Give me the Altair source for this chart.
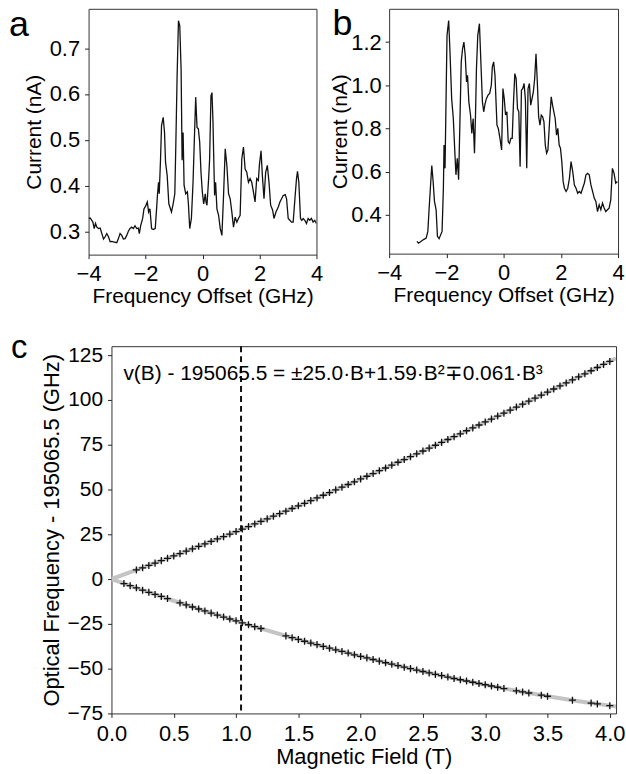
import altair as alt
import pandas as pd

FONT = "Liberation Sans"

# ---------------- panel a: photocurrent vs frequency offset ----------------
a_freq = [
    -4.0, -3.942, -3.849, -3.802, -3.756, -3.709, -3.651, -3.593, -3.534, -3.476,
    -3.418, -3.36, -3.302, -3.243, -3.185, -3.127, -3.011, -2.952, -2.894, -2.836,
    -2.778, -2.719, -2.661, -2.603, -2.545, -2.487, -2.428, -2.37, -2.312, -2.254,
    -2.219, -2.172, -2.102, -2.056, -1.998, -1.939, -1.893, -1.846, -1.788, -1.73,
    -1.66, -1.613, -1.579, -1.544, -1.52, -1.474, -1.439, -1.381, -1.334, -1.299,
    -1.241, -1.183, -1.09, -1.031, -0.973, -0.938, -0.892, -0.845, -0.799, -0.752,
    -0.717, -0.682, -0.647, -0.589, -0.531, -0.496, -0.449, -0.391, -0.333, -0.286,
    -0.24, -0.193, -0.147, -0.1, -0.054, -0.007, 0.04, 0.098,
    0.121, 0.156, 0.214, 0.249, 0.296, 0.331, 0.366, 0.389, 0.424, 0.459,
    0.505, 0.564, 0.622, 0.68, 0.738, 0.796, 0.854, 0.913, 0.971, 1.029,
    1.087, 1.145, 1.204, 1.262, 1.32, 1.378, 1.437, 1.495, 1.553, 1.611,
    1.669, 1.728, 1.786, 1.844, 1.902, 1.96, 1.995, 2.054, 2.1, 2.158,
    2.216, 2.275, 2.333, 2.391, 2.461, 2.508, 2.577, 2.659, 2.717, 2.775,
    2.833, 2.903, 2.95, 3.008, 3.066, 3.124, 3.182, 3.252, 3.299, 3.334,
    3.38, 3.439, 3.485, 3.532, 3.59, 3.648, 3.706, 3.764, 3.822, 3.881,
    3.939, 3.997,
]
a_current = [
    0.328, 0.329, 0.320, 0.306, 0.317, 0.309, 0.306, 0.307, 0.295, 0.283,
    0.288, 0.295, 0.288, 0.277, 0.278, 0.277, 0.275, 0.284, 0.295, 0.291,
    0.283, 0.284, 0.291, 0.300, 0.306, 0.309, 0.306, 0.312, 0.306, 0.307,
    0.295, 0.312, 0.328, 0.349, 0.355, 0.364, 0.342, 0.349, 0.306, 0.304,
    0.306, 0.349, 0.382, 0.407, 0.382, 0.458, 0.531, 0.549, 0.516, 0.451,
    0.422, 0.360, 0.342, 0.360, 0.382, 0.487, 0.640, 0.760, 0.749, 0.654,
    0.455, 0.516, 0.400, 0.382, 0.386, 0.360, 0.306, 0.328, 0.407, 0.502,
    0.593, 0.527, 0.524, 0.495, 0.429, 0.386, 0.360, 0.382,
    0.364, 0.357, 0.415, 0.458, 0.596, 0.603, 0.542, 0.473, 0.378, 0.407,
    0.349, 0.335, 0.306, 0.291, 0.378, 0.480, 0.444, 0.382, 0.371, 0.342,
    0.309, 0.331, 0.320, 0.328, 0.335, 0.458, 0.484, 0.436, 0.429, 0.407,
    0.415, 0.407, 0.386, 0.364, 0.415, 0.411, 0.444, 0.476, 0.422, 0.371,
    0.429, 0.444, 0.407, 0.357, 0.346, 0.328, 0.342, 0.353, 0.364, 0.371,
    0.378, 0.380, 0.371, 0.328, 0.324, 0.320, 0.320, 0.378, 0.415, 0.431,
    0.407, 0.328, 0.324, 0.328, 0.324, 0.317, 0.328, 0.324, 0.328, 0.320,
    0.324, 0.317,
]

# ---------------- panel b ----------------
b_freq = [
    -3.029, -2.971, -2.913, -2.798, -2.705, -2.647, -2.601, -2.555, -2.509, -2.462,
    -2.416, -2.358, -2.312, -2.254, -2.197, -2.150, -2.104, -2.081, -2.046, -2.012,
    -1.977, -1.919, -1.873, -1.815, -1.757, -1.699, -1.665, -1.618, -1.572, -1.526,
    -1.480, -1.434, -1.387, -1.341, -1.295, -1.260, -1.214, -1.156, -1.110, -1.064,
    -1.017, -0.983, -0.948, -0.902, -0.844, -0.798, -0.740, -0.694, -0.647, -0.601,
    -0.543, -0.486, -0.428, -0.393, -0.347, -0.301, -0.231, -0.185,
    -0.127, -0.069, -0.023, 0.023, 0.069, 0.116, 0.162, 0.208, 0.254, 0.301,
    0.347, 0.393, 0.439, 0.486, 0.532, 0.578, 0.624, 0.671, 0.717, 0.763,
    0.809, 0.855, 0.902, 0.948, 0.994, 1.040, 1.087, 1.133, 1.179, 1.225,
    1.272, 1.318, 1.364, 1.410, 1.457, 1.503, 1.549, 1.607, 1.665, 1.711,
    1.757, 1.803, 1.850, 1.896, 1.942, 1.988, 2.035, 2.081, 2.127, 2.185,
    2.243, 2.301, 2.358, 2.416, 2.474, 2.532, 2.590, 2.647, 2.705, 2.763,
    2.821, 2.879, 2.936, 2.994, 3.052, 3.110, 3.168, 3.225, 3.283, 3.341,
    3.399, 3.457, 3.514, 3.572, 3.630, 3.688, 3.746, 3.803, 3.861, 3.919,
    3.977,
]
b_current = [
    0.277, 0.269, 0.274, 0.285, 0.292, 0.323, 0.431, 0.531, 0.628, 0.554,
    0.462, 0.423, 0.300, 0.289, 0.308, 0.323, 0.523, 0.723, 0.615, 0.923,
    1.231, 1.300, 1.154, 0.938, 0.846, 0.677, 0.585, 0.662, 0.562, 0.831,
    1.108, 1.169, 1.200, 1.138, 1.015, 1.046, 0.923, 0.862, 0.777, 0.846,
    0.685, 0.854, 1.077, 1.231, 1.285, 1.123, 0.923, 0.877, 0.915, 0.938,
    0.954, 0.962, 1.000, 1.085, 1.108, 1.046, 0.815, 0.800,
    0.754, 0.700, 0.985, 0.938, 0.862, 0.877, 0.738, 0.731, 0.754, 0.754,
    0.923, 1.054, 1.031, 0.892, 0.877, 0.623, 0.977, 0.985, 1.008, 0.931,
    0.615, 0.985, 1.008, 0.908, 0.938, 0.969, 1.031, 1.146, 1.015, 0.854,
    0.815, 0.862, 0.854, 0.831, 0.723, 0.685, 0.700, 0.831, 0.946, 0.908,
    0.877, 0.846, 0.769, 0.800, 0.723, 0.708, 0.646, 0.554, 0.523, 0.508,
    0.523, 0.569, 0.646, 0.600, 0.538, 0.523, 0.500, 0.508, 0.500, 0.523,
    0.546, 0.585, 0.592, 0.585, 0.538, 0.508, 0.477, 0.462, 0.415, 0.446,
    0.423, 0.454, 0.431, 0.415, 0.423, 0.431, 0.469, 0.615, 0.592, 0.546,
    0.554,
]

# ---------------- panel c: Zeeman splitting ----------------
up_field = [
    0.20, 0.25, 0.30, 0.35, 0.40, 0.45, 0.50, 0.55, 0.60, 0.65,
    0.70, 0.75, 0.80, 0.85, 0.90, 0.95, 1.00, 1.05, 1.10, 1.15,
    1.20, 1.25, 1.30, 1.35, 1.40, 1.45, 1.50, 1.55, 1.60, 1.65,
    1.70, 1.75, 1.80, 1.85, 1.90, 1.95, 2.00, 2.05, 2.10, 2.15,
    2.20, 2.25, 2.30, 2.35, 2.40, 2.45, 2.50, 2.55, 2.60, 2.65,
    2.70, 2.75, 2.80, 2.85, 2.90, 2.95, 3.00, 3.05, 3.10, 3.15,
    3.20, 3.25, 3.30, 3.35, 3.40, 3.45, 3.50, 3.55, 3.60, 3.65,
    3.70, 3.75, 3.80, 3.85, 3.90, 3.95, 4.00,
]
up_freq = [
    5.1, 6.3, 7.6, 8.9, 10.3, 11.6, 12.9, 14.2, 15.6, 16.9,
    18.3, 19.6, 21.0, 22.4, 23.7, 25.1, 26.5, 27.9, 29.3, 30.8,
    32.2, 33.6, 35.1, 36.5, 37.9, 39.4, 40.9, 42.3, 43.8, 45.3,
    46.8, 48.3, 49.8, 51.3, 52.8, 54.3, 55.9, 57.4, 58.9, 60.5,
    62.0, 63.6, 65.2, 66.7, 68.3, 69.9, 71.5, 73.1, 74.7, 76.3,
    77.9, 79.5, 81.1, 82.8, 84.4, 86.0, 87.7, 89.3, 91.0, 92.6,
    94.3, 96.0, 97.6, 99.3, 101.0, 102.7, 104.4, 106.1, 107.8, 109.5,
    111.2, 112.9, 114.6, 116.3, 118.1, 119.8, 121.5,
]
lo_field = [
    0.10, 0.15, 0.20, 0.25, 0.30, 0.35, 0.40, 0.45, 0.55, 0.60,
    0.65, 0.70, 0.75, 0.80, 0.85, 0.90, 0.95, 1.00, 1.05, 1.10,
    1.15, 1.20, 1.40, 1.45, 1.50, 1.55, 1.60, 1.65, 1.70, 1.75,
    1.80, 1.85, 1.90, 1.95, 2.00, 2.05, 2.10, 2.15, 2.20, 2.25,
    2.30, 2.35, 2.40, 2.45, 2.50, 2.55, 2.60, 2.65, 2.70, 2.75,
    2.80, 2.85, 2.90, 2.95, 3.00, 3.05, 3.10, 3.15, 3.25, 3.30,
    3.35, 3.45, 3.50, 3.70, 3.85, 3.90, 4.00,
]
lo_freq = [
    -2.5, -3.7, -4.9, -6.2, -7.4, -8.6, -9.7, -10.9, -13.3, -14.4,
    -15.6, -16.7, -17.8, -19.0, -20.1, -21.2, -22.3, -23.3, -24.4, -25.5,
    -26.6, -27.6, -31.7, -32.7, -33.7, -34.7, -35.7, -36.6, -37.6, -38.6,
    -39.5, -40.4, -41.3, -42.3, -43.2, -44.0, -44.9, -45.8, -46.7, -47.5,
    -48.3, -49.2, -50.0, -50.8, -51.6, -52.4, -53.2, -53.9, -54.7, -55.5,
    -56.2, -56.9, -57.6, -58.3, -59.0, -59.7, -60.4, -61.1, -62.4, -63.0,
    -63.6, -64.8, -65.4, -67.6, -69.2, -69.7, -70.7,
]
fit_field = [0.0, 0.25, 0.5, 0.75, 1.0, 1.25, 1.5, 1.75, 2.0, 2.25, 2.5, 2.75,
             3.0, 3.25, 3.5, 3.75, 4.0, 4.05]
fit_up = [0.0, 6.35, 12.89, 19.62, 26.53, 33.62, 40.87, 48.29, 55.87, 63.6,
          71.48, 79.51, 87.66, 95.95, 104.36, 112.89, 121.54, 123.28]
fit_lo = [0.0, -6.15, -12.10, -17.83, -23.35, -28.65, -33.72, -38.55, -43.15,
          -47.51, -51.61, -55.46, -59.04, -62.36, -65.41, -68.17, -70.66, -71.12]
marker_field = [1.04]
fit_text = "v(B) - 195065.5 = \u00b125.0\u00b7B+1.59\u00b7B\u00b2\u22130.061\u00b7B\u00b3"

offset_ticks = [-4, -2, 0, 2, 4]
a_yticks = [0.3, 0.4, 0.5, 0.6, 0.7]
b_yticks = [0.4, 0.6, 0.8, 1.0, 1.2]
c_xticks = [0.0, 0.5, 1.0, 1.5, 2.0, 2.5, 3.0, 3.5, 4.0]
c_yticks = [-75, -50, -25, 0, 25, 50, 75, 100, 125]

FRAME = alt.ViewBackground(stroke="#333", strokeWidth=1)


def axis(values, fmt, title, lsize, tsize, title_pad, label_pad=5):
    return alt.Axis(values=values, format=fmt, title=title, grid=False, domain=False,
                    ticks=True, tickSize=4, tickColor="#222", labelColor="black",
                    titleColor="black", labelFont=FONT, titleFont=FONT,
                    labelFontSize=lsize, titleFontSize=tsize, titleFontWeight="normal",
                    labelPadding=label_pad, titlePadding=title_pad, labelFlush=False)


def label_layer(letter, x, y, size):
    return alt.Chart(pd.DataFrame({"t": [letter]})).mark_text(
        fontSize=size, font=FONT, align="left", baseline="alphabetic", color="black"
    ).encode(text="t:N", x=alt.value(x), y=alt.value(y))


def spectrum(xs, ys, ydom, yticks, letter, lx, ly, w, h, ytitle_pad, ylabel_pad):
    df = pd.DataFrame({"f": xs, "c": ys})
    line = alt.Chart(df).mark_line(color="#111", strokeWidth=1.3, clip=True).encode(
        x=alt.X("f:Q", scale=alt.Scale(domain=[-4, 4], nice=False, zero=False),
                axis=axis(offset_ticks, "d", "Frequency Offset (GHz)", 22, 21, 1)),
        y=alt.Y("c:Q", scale=alt.Scale(domain=ydom, nice=False, zero=False),
                axis=axis(yticks, ".1f", "Current (nA)", 22, 21, ytitle_pad, ylabel_pad)),
        order="f:Q",
    )
    return alt.layer(line, label_layer(letter, lx, ly, 36)).properties(
        width=w, height=h, view=FRAME)


panel_a = spectrum(a_freq, a_current, [0.249, 0.786], a_yticks, "a", -80, 27, 229, 247, 5, 5)
panel_b = spectrum(b_freq, b_current, [0.22, 1.354], b_yticks, "b", -57, 26, 230, 246, 0, 4)

xsc = alt.Scale(domain=[0, 4.05], nice=False, zero=False)
ysc = alt.Scale(domain=[-75, 130], nice=False, zero=False)

fit_df = pd.DataFrame({
    "B": fit_field + fit_field,
    "v": fit_up + fit_lo,
    "branch": ["up"] * len(fit_field) + ["lo"] * len(fit_field),
})
pts_df = pd.DataFrame({
    "B": up_field + lo_field,
    "v": up_freq + lo_freq,
})

fit = alt.Chart(fit_df).mark_line(color="#c4c4c4", strokeWidth=4, clip=True).encode(
    x=alt.X("B:Q", scale=xsc, axis=axis(c_xticks, ".1f", "Magnetic Field (T)", 22, 22, 2, 6)),
    y=alt.Y("v:Q", scale=ysc,
            axis=axis(c_yticks, "d", "Optical Frequency - 195065.5 (GHz)", 21, 22, 4)),
    detail="branch:N",
    order="B:Q",
)
pts = alt.Chart(pts_df).mark_point(
    shape="M -1 0 L 1 0 M 0 -1 L 0 1", filled=False, color="#111",
    strokeWidth=1.3, size=50, opacity=1,
).encode(x=alt.X("B:Q", scale=xsc), y=alt.Y("v:Q", scale=ysc))
vline = alt.Chart(pd.DataFrame({"B": marker_field})).mark_rule(
    color="#111", strokeWidth=2, strokeDash=[6, 4]
).encode(x=alt.X("B:Q", scale=xsc))
ann = alt.Chart(pd.DataFrame({"t": [fit_text]})).mark_text(
    fontSize=21, font=FONT, align="left", baseline="middle", color="black"
).encode(text="t:N", x=alt.value(12), y=alt.value(28))

panel_c = alt.layer(fit, vline, pts, ann, label_layer("c", -101, 12, 33)).properties(
    width=507, height=369, view=FRAME
)

spacer = alt.Chart(pd.DataFrame({"s": [0]})).mark_point(opacity=0).encode(
    x=alt.value(0), y=alt.value(0)
).properties(width=23, height=369, view=alt.ViewBackground(stroke="transparent"))

# nested concat rows count as zero height in flush layout, so the row offset
# below is the full distance between the two rows' plot tops
chart = alt.vconcat(
    alt.hconcat(panel_a, panel_b, spacing=73, bounds="flush"),
    alt.hconcat(spacer, panel_c, spacing=0, bounds="flush"),
    spacing=339,
    bounds="flush",
).properties(
    padding={"left": 8, "top": 3, "right": 0, "bottom": 0}
).configure_view(strokeWidth=0).configure(font=FONT)

chart.save("out.html", embed_options={"renderer": "svg", "actions": False})
